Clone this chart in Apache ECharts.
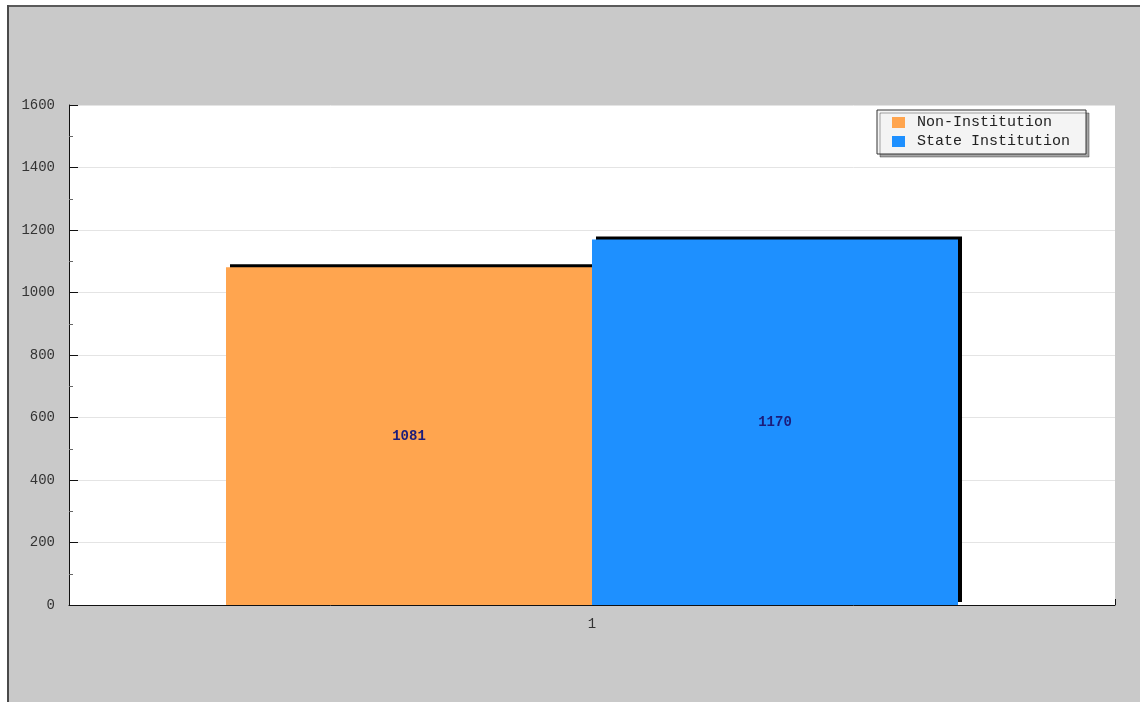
<!DOCTYPE html>
<html>
<head>
<meta charset="utf-8">
<script src="https://cdn.jsdelivr.net/npm/echarts@6/dist/echarts.min.js"></script>
<style>
html,body{margin:0;padding:0;background:#fff;}
#chart{width:1140px;height:702px;}
</style>
</head>
<body>
<div id="chart"></div>
<script>
const categories = ['1'];
const seriesNames = ['Non-Institution', 'State Institution'];
const nonInstitution = [1081];
const stateInstitution = [1170];
const yTicks = [0, 200, 400, 600, 800, 1000, 1200, 1400, 1600];

const chart = echarts.init(document.getElementById('chart'), null, {renderer: 'canvas'});
const mono = '"Liberation Mono", "DejaVu Sans Mono", monospace';
const barStyle = (color) => ({
  color: color,
  borderWidth: 0,
  shadowColor: '#000',
  shadowBlur: 0,
  shadowOffsetX: 4,
  shadowOffsetY: -3
});
chart.setOption({
  backgroundColor: '#c9c9c9',
  animation: false,
  graphic: [
    {type: 'rect', shape: {x: 0, y: 0, width: 1140, height: 5}, style: {fill: '#fff'}, z: 100},
    {type: 'rect', shape: {x: 0, y: 0, width: 7, height: 702}, style: {fill: '#fff'}, z: 100},
    {type: 'line', shape: {x1: 7, y1: 6, x2: 1140, y2: 6}, style: {stroke: '#5a5a5a', lineWidth: 2}, z: 101},
    {type: 'line', shape: {x1: 8, y1: 5, x2: 8, y2: 702}, style: {stroke: '#4a4a4a', lineWidth: 2}, z: 101}
  ],
  grid: {
    left: 69, right: 25, top: 105, bottom: 97,
    show: true, backgroundColor: '#fff', borderWidth: 0
  },
  legend: {
    orient: 'vertical',
    left: 877, top: 110,
    data: seriesNames,
    icon: 'rect',
    backgroundColor: '#f4f4f4',
    borderColor: '#333',
    borderWidth: 1,
    borderRadius: 0,
    padding: [5, 16, 5, 15],
    itemWidth: 13, itemHeight: 11, itemGap: 4,
    shadowColor: 'rgba(0,0,0,0.35)', shadowBlur: 0, shadowOffsetX: 3, shadowOffsetY: 3,
    textStyle: {fontFamily: mono, fontSize: 15, color: '#222', padding: [0, 0, 0, 7]}
  },
  xAxis: {
    type: 'category',
    data: categories,
    axisLine: {show: true, lineStyle: {color: '#111', width: 1}},
    axisTick: {show: true, inside: true, length: 6, lineStyle: {color: '#111'}},
    axisLabel: {fontFamily: mono, fontSize: 14, color: '#333', margin: 12}
  },
  yAxis: {
    type: 'value',
    min: 0, max: 1600, interval: 200,
    axisLine: {show: true, lineStyle: {color: '#111', width: 1}},
    axisTick: {show: true, inside: true, length: 9, lineStyle: {color: '#111'}},
    minorTick: {show: true, splitNumber: 2, length: 4, lineStyle: {color: '#666'}},
    splitLine: {show: true, lineStyle: {color: '#e4e4e4', width: 1}},
    axisLabel: {
      fontFamily: mono, fontSize: 14, color: '#333', margin: 14,
      formatter: (v) => yTicks.includes(v) ? String(v) : ''
    }
  },
  series: [
    {
      name: seriesNames[0], type: 'bar', data: nonInstitution,
      barWidth: 366, barGap: '0%',
      itemStyle: barStyle('#FFA54F'),
      label: {show: true, position: 'inside', fontFamily: mono, fontWeight: 'bold', fontSize: 14, color: '#1c1c7a'}
    },
    {
      name: seriesNames[1], type: 'bar', data: stateInstitution,
      barWidth: 366, barGap: '0%',
      itemStyle: barStyle('#1E90FF'),
      label: {show: true, position: 'inside', fontFamily: mono, fontWeight: 'bold', fontSize: 14, color: '#1c1c7a'}
    }
  ]
});
</script>
</body>
</html>
